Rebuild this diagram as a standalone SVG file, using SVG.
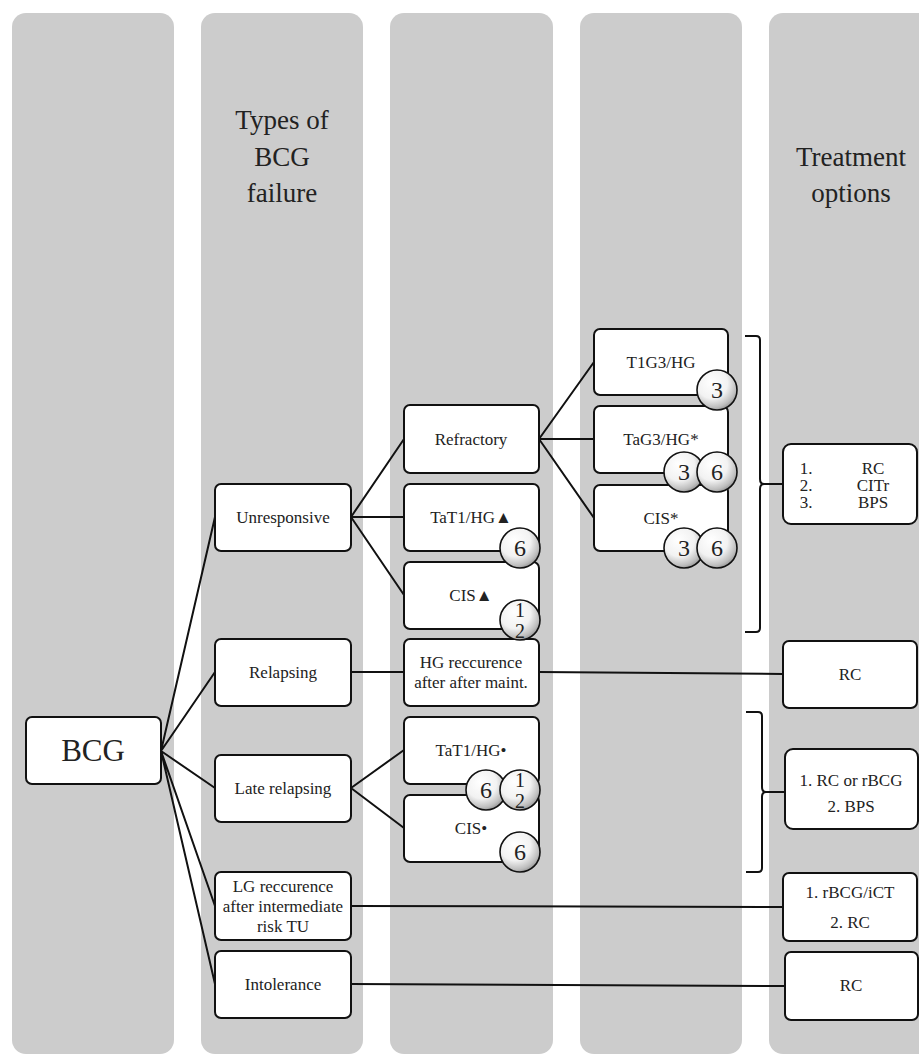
<svg xmlns="http://www.w3.org/2000/svg" width="919" height="1055" viewBox="0 0 919 1055">
<defs>
<radialGradient id="sph" cx="0.4" cy="0.35" r="0.7" fx="0.35" fy="0.3">
<stop offset="0" stop-color="#ffffff"/>
<stop offset="0.55" stop-color="#f2f2f2"/>
<stop offset="0.85" stop-color="#bdbdbd"/>
<stop offset="1" stop-color="#8c8c8c"/>
</radialGradient>
<style>
.col{fill:#cccccc}
.box{fill:#ffffff;stroke:#111;stroke-width:2}
.t{font-family:"Liberation Serif","DejaVu Serif",serif;fill:#222;text-anchor:middle}
.s{font-size:17px}
.h{font-size:27px}
.b{fill:url(#sph);stroke:#111;stroke-width:1.6}
.n{font-family:"Liberation Serif","DejaVu Serif",serif;font-size:24px;fill:#222;text-anchor:middle}
.n2{font-family:"Liberation Serif","DejaVu Serif",serif;font-size:20px;fill:#222;text-anchor:middle}
.c{fill:none;stroke:#111;stroke-width:2}
</style>
</defs>
<rect width="919" height="1055" fill="#ffffff"/>
<g id="columns">
<rect class="col" x="12" y="13" width="162" height="1041" rx="14"/>
<rect class="col" x="201" y="13" width="162" height="1041" rx="14"/>
<rect class="col" x="390" y="13" width="163" height="1041" rx="14"/>
<rect class="col" x="580" y="13" width="162" height="1041" rx="14"/>
<rect class="col" x="769" y="13" width="170" height="1041" rx="14"/>
</g>
<g id="headers">
<text class="t h" x="282" y="129">Types of</text>
<text class="t h" x="282" y="166">BCG</text>
<text class="t h" x="282" y="202">failure</text>
<text class="t h" x="851" y="166">Treatment</text>
<text class="t h" x="851" y="202">options</text>
</g>
<g id="connectors">
<path class="c" d="M161 751 L215 517 M161 751 L215 672 M161 751 L215 788 M161 751 L215 906 M161 751 L215 984"/>
<path class="c" d="M351 517 L404 439 M351 517 L404 517 M351 517 L404 595"/>
<path class="c" d="M539 439 L594 362 M539 439 L594 439 M539 439 L594 518"/>
<path class="c" d="M351 672 L404 672 M539 672 L783 674"/>
<path class="c" d="M351 788 L404 750 M351 788 L404 828"/>
<path class="c" d="M351 906 L783 907 M351 984 L785 986"/>
<path class="c" d="M745 336 L756 336 Q760 336 760 340 L760 479 Q760 484 764 484 Q760 484 760 489 L760 628 Q760 632 756 632 L745 632"/>
<path class="c" d="M764 484 L783 484"/>
<path class="c" d="M746 712 L758 712 Q762 712 762 716 L762 787 Q762 792 766 792 Q762 792 762 797 L762 868 Q762 872 758 872 L746 872"/>
<path class="c" d="M766 792 L785 792"/>
</g>
<g id="n-bcg"><rect class="box" x="26" y="717" width="135" height="67" rx="6"/><text class="t" x="93" y="761" font-size="31">BCG</text></g>
<g id="n-unresponsive"><rect class="box" x="215" y="484" width="136" height="67" rx="6"/><text class="t s" x="283" y="523">Unresponsive</text></g>
<g id="n-relapsing"><rect class="box" x="215" y="639" width="136" height="67" rx="6"/><text class="t s" x="283" y="678">Relapsing</text></g>
<g id="n-late"><rect class="box" x="215" y="755" width="136" height="67" rx="6"/><text class="t s" x="283" y="794">Late relapsing</text></g>
<g id="n-lg"><rect class="box" x="215" y="872" width="136" height="68" rx="6"/><text class="t s" x="283" y="892">LG reccurence</text><text class="t s" x="283" y="912">after intermediate</text><text class="t s" x="283" y="932">risk TU</text></g>
<g id="n-intol"><rect class="box" x="215" y="951" width="136" height="67" rx="6"/><text class="t s" x="283" y="990">Intolerance</text></g>
<g id="n-refractory"><rect class="box" x="404" y="405" width="135" height="68" rx="6"/><text class="t s" x="471" y="445">Refractory</text></g>
<g id="n-tat1a"><rect class="box" x="404" y="484" width="135" height="67" rx="6"/><text class="t s" x="471" y="523">TaT1/HG▲</text></g>
<g id="n-cisa"><rect class="box" x="404" y="562" width="135" height="67" rx="6"/><text class="t s" x="471" y="601">CIS▲</text></g>
<g id="n-hgrec"><rect class="box" x="404" y="639" width="135" height="67" rx="6"/><text class="t s" x="471" y="668">HG reccurence</text><text class="t s" x="471" y="688">after after maint.</text></g>
<g id="n-tat1b"><rect class="box" x="404" y="717" width="135" height="67" rx="6"/><text class="t s" x="471" y="756">TaT1/HG•</text></g>
<g id="n-cisb"><rect class="box" x="404" y="795" width="135" height="67" rx="6"/><text class="t s" x="471" y="834">CIS•</text></g>
<g id="n-t1g3"><rect class="box" x="594" y="329" width="134" height="66" rx="6"/><text class="t s" x="661" y="368">T1G3/HG</text></g>
<g id="n-tag3"><rect class="box" x="594" y="406" width="134" height="67" rx="6"/><text class="t s" x="661" y="445">TaG3/HG*</text></g>
<g id="n-ciss"><rect class="box" x="594" y="485" width="134" height="66" rx="6"/><text class="t s" x="661" y="524">CIS*</text></g>
<g id="n-tx1"><rect class="box" x="783" y="444" width="134" height="80" rx="8"/>
<text class="t s" x="806" y="474">1.</text><text class="t s" x="806" y="491">2.</text><text class="t s" x="806" y="508">3.</text>
<text class="t s" x="873" y="474">RC</text><text class="t s" x="873" y="491">CITr</text><text class="t s" x="873" y="508">BPS</text></g>
<g id="n-tx2"><rect class="box" x="783" y="641" width="134" height="67" rx="6"/><text class="t s" x="850" y="680">RC</text></g>
<g id="n-tx3"><rect class="box" x="785" y="749" width="133" height="80" rx="8"/><text class="t s" x="851" y="786">1. RC or rBCG</text><text class="t s" x="851" y="812">2. BPS</text></g>
<g id="n-tx4"><rect class="box" x="783" y="873" width="134" height="68" rx="6"/><text class="t s" x="850" y="898">1. rBCG/iCT</text><text class="t s" x="850" y="928">2. RC</text></g>
<g id="n-tx5"><rect class="box" x="785" y="952" width="133" height="68" rx="6"/><text class="t s" x="851" y="991">RC</text></g>
<g id="badges">
<g id="b-t1g3-3"><circle class="b" cx="717" cy="390" r="20"/><text class="n" x="717" y="398">3</text></g>
<g id="b-tag3-3"><circle class="b" cx="684" cy="472" r="20"/><text class="n" x="684" y="480">3</text></g>
<g id="b-tag3-6"><circle class="b" cx="717" cy="472" r="20"/><text class="n" x="717" y="480">6</text></g>
<g id="b-ciss-3"><circle class="b" cx="684" cy="548" r="20"/><text class="n" x="684" y="556">3</text></g>
<g id="b-ciss-6"><circle class="b" cx="717" cy="548" r="20"/><text class="n" x="717" y="556">6</text></g>
<g id="b-tat1a-6"><circle class="b" cx="520" cy="548" r="20"/><text class="n" x="520" y="556">6</text></g>
<g id="b-cisa-12"><circle class="b" cx="520" cy="620" r="20"/><text class="n2" x="520" y="617">1</text><text class="n2" x="520" y="638">2</text></g>
<g id="b-tat1b-6"><circle class="b" cx="486" cy="790" r="20"/><text class="n" x="486" y="798">6</text></g>
<g id="b-tat1b-12"><circle class="b" cx="520" cy="790" r="20"/><text class="n2" x="520" y="787">1</text><text class="n2" x="520" y="808">2</text></g>
<g id="b-cisb-6"><circle class="b" cx="520" cy="852" r="20"/><text class="n" x="520" y="860">6</text></g>
</g>
</svg>
